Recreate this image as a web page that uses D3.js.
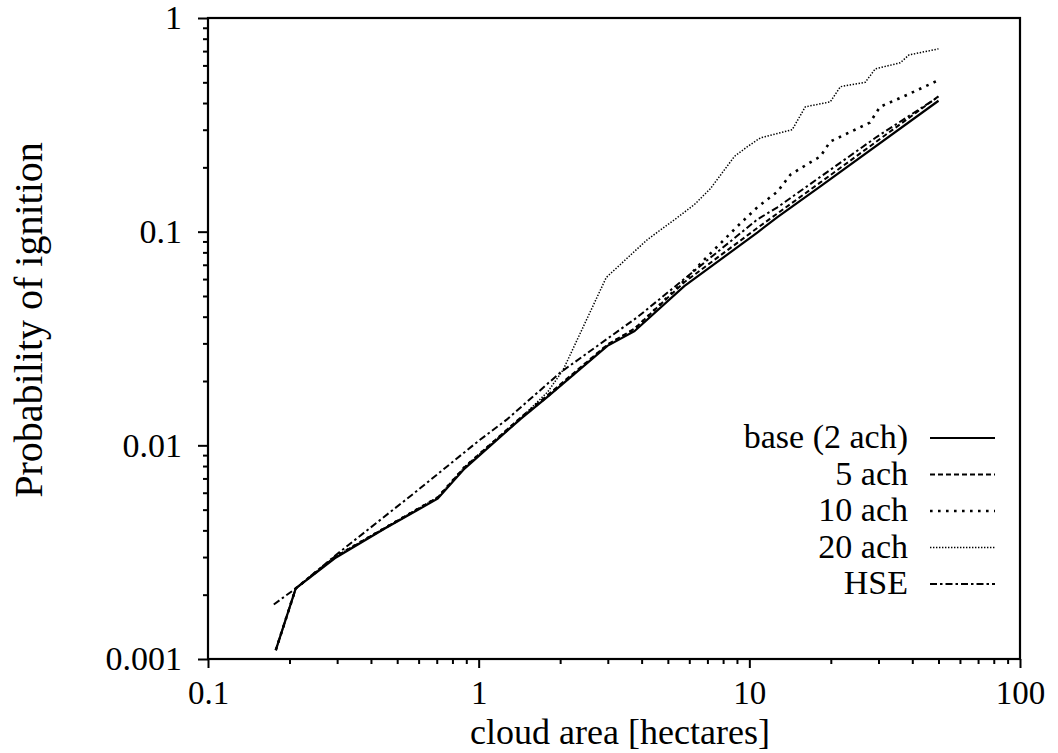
<!DOCTYPE html>
<html>
<head>
<meta charset="utf-8">
<script src="https://cdn.jsdelivr.net/npm/d3@7"></script>
<style>
  html, body { margin: 0; padding: 0; background: #fff; }
  svg { display: block; }
  text { font-family: "Liberation Serif", "Times New Roman", serif; fill: #000; }
</style>
</head>
<body>
<svg id="chart" width="1058" height="753"></svg>
<script>
// Probability of ignition vs. cloud area, [area (ha), probability] pairs
const base = [[0.178,0.0011],[0.211,0.00214],[0.294,0.00296],[0.45,0.00408],[0.706,0.00563],[0.887,0.00778],[1.43,0.0133],[1.8,0.0169],[2.99,0.0292],[3.77,0.0343],[5.75,0.0556],[10.7,0.099],[12.7,0.117],[18.3,0.163],[50,0.41]];
const ach5 = [[0.178,0.0011],[0.211,0.00214],[0.294,0.003],[0.45,0.0041],[0.706,0.0057],[0.887,0.0079],[1.43,0.0135],[1.8,0.0172],[2.99,0.0296],[3.77,0.0352],[5.75,0.058],[10.7,0.104],[18.3,0.17],[50,0.43]];
const ach10 = [[0.178,0.0011],[0.211,0.00214],[0.294,0.003],[0.45,0.0041],[0.706,0.0057],[0.887,0.0079],[1.43,0.0134],[1.8,0.017],[2.99,0.0295],[3.77,0.035],[5.2,0.052],[5.9,0.061],[6.82,0.074],[9.04,0.106],[10.7,0.13],[12.7,0.154],[14.2,0.185],[16.8,0.211],[18.3,0.225],[19.9,0.264],[27.9,0.324],[30.4,0.384],[38.3,0.437],[49.4,0.508]];
const ach20 = [[0.178,0.0011],[0.211,0.00214],[0.294,0.003],[0.45,0.0041],[0.706,0.0057],[0.887,0.0079],[1.43,0.0134],[1.8,0.0178],[2.05,0.0225],[2.96,0.061],[3.77,0.081],[4.21,0.092],[5.4,0.116],[6.27,0.134],[7.18,0.159],[8.81,0.225],[9.84,0.25],[11,0.275],[14.4,0.30],[16.1,0.384],[19.9,0.405],[21.7,0.477],[26.8,0.50],[29.2,0.578],[36.1,0.617],[38.9,0.672],[50,0.717]];
const hse = [[0.175,0.0018],[0.211,0.00214],[0.3,0.0031],[0.58,0.006],[1.0,0.0105],[1.28,0.0133],[2.01,0.022],[3.86,0.0398],[10.7,0.114],[12.7,0.13],[29.6,0.278],[50,0.428]];

const seriesNames = ["base (2 ach)", "5 ach", "10 ach", "20 ach", "HSE"];
const xMajor = [0.1, 1, 10, 100];
const xMajorLabels = ["0.1", "1", "10", "100"];
const yMajor = [0.001, 0.01, 0.1, 1];
const yMajorLabels = ["0.001", "0.01", "0.1", "1"];

const svg = d3.select("#chart");
const plot = { left: 208, right: 1020, top: 18, bottom: 659 };

const x = d3.scaleLog().domain([0.1, 100]).range([plot.left, plot.right]);
const y = d3.scaleLog().domain([0.001, 1]).range([plot.bottom, plot.top]);

// line styles per series
const styles = {
  "base (2 ach)": { width: 2.2, dash: null },
  "5 ach":        { width: 2,   dash: "5,3" },
  "10 ach":       { width: 2.6, dash: "2.6,5.4" },
  "20 ach":       { width: 1.5, dash: "1.4,1.6" },
  "HSE":          { width: 2,   dash: "7,3,2.5,3" }
};
const dataBySeries = {
  "base (2 ach)": base, "5 ach": ach5, "10 ach": ach10, "20 ach": ach20, "HSE": hse
};

// minor + major tick positions for log axes
function logTicks(lo, hi) {
  const out = [];
  for (let e = Math.log10(lo); e < Math.log10(hi); e++) {
    for (let m = 1; m < 10; m++) out.push(+(m * Math.pow(10, e)).toPrecision(3));
  }
  out.push(hi);
  return out;
}
const isMajor = v => Math.abs(Math.log10(v) - Math.round(Math.log10(v))) < 1e-9;

// x axis
const xAxis = d3.axisBottom(x)
  .tickValues(logTicks(0.1, 100))
  .tickSizeOuter(0)
  .tickSize(9)
  .tickPadding(13)
  .tickFormat(v => isMajor(v) ? xMajorLabels[xMajor.findIndex(t => Math.abs(t - v) < 1e-9)] : "");
const gx = svg.append("g").attr("transform", `translate(0,${plot.bottom})`).call(xAxis);
gx.select(".domain").remove();
gx.selectAll(".tick line").attr("stroke", "#000").attr("stroke-width", 2)
  .attr("y2", d => isMajor(d) ? 9 : 5);
gx.selectAll(".tick text").attr("font-size", 33).attr("font-family", "Liberation Serif");

// y axis
const yAxis = d3.axisLeft(y)
  .tickValues(logTicks(0.001, 1))
  .tickSizeOuter(0)
  .tickSize(10)
  .tickPadding(16)
  .tickFormat(v => isMajor(v) ? yMajorLabels[yMajor.findIndex(t => Math.abs(t - v) < 1e-9)] : "");
const gy = svg.append("g").attr("transform", `translate(${plot.left},0)`).call(yAxis);
gy.select(".domain").remove();
gy.selectAll(".tick line").attr("stroke", "#000").attr("stroke-width", 2)
  .attr("x2", d => isMajor(d) ? -10 : -5);
gy.selectAll(".tick text").attr("font-size", 34).attr("font-family", "Liberation Serif");

// frame
svg.append("rect")
  .attr("x", plot.left).attr("y", plot.top)
  .attr("width", plot.right - plot.left).attr("height", plot.bottom - plot.top)
  .attr("fill", "none").attr("stroke", "#000").attr("stroke-width", 2.2);

// clip for curves
svg.append("clipPath").attr("id", "plotclip").append("rect")
  .attr("x", plot.left).attr("y", plot.top)
  .attr("width", plot.right - plot.left).attr("height", plot.bottom - plot.top);

const line = d3.line().x(d => x(d[0])).y(d => y(d[1]));
const gLines = svg.append("g").attr("clip-path", "url(#plotclip)");

// draw the overlapped series first so the base curve stays solid on top
["20 ach", "10 ach", "5 ach", "HSE", "base (2 ach)"].forEach(name => {
  const s = styles[name];
  gLines.append("path")
    .datum(dataBySeries[name])
    .attr("d", line)
    .attr("fill", "none")
    .attr("stroke", "#000")
    .attr("stroke-width", s.width)
    .attr("stroke-linejoin", "round")
    .attr("stroke-dasharray", s.dash);
});

// legend
const legend = svg.append("g");
seriesNames.forEach((name, i) => {
  const cy = 438 + i * 36.5;
  const s = styles[name];
  legend.append("text")
    .attr("x", 908).attr("y", cy + 10)
    .attr("text-anchor", "end")
    .attr("font-size", 34)
    .text(name);
  legend.append("line")
    .attr("x1", 930).attr("x2", 995)
    .attr("y1", cy).attr("y2", cy)
    .attr("stroke", "#000")
    .attr("stroke-width", s.width)
    .attr("stroke-dasharray", s.dash);
});

// axis titles
svg.append("text")
  .attr("x", 620).attr("y", 744)
  .attr("text-anchor", "middle")
  .attr("font-size", 36)
  .text("cloud area [hectares]");

svg.append("text")
  .attr("transform", "translate(42,320) rotate(-90)")
  .attr("text-anchor", "middle")
  .attr("font-size", 40)
  .text("Probability of ignition");
</script>
</body>
</html>
